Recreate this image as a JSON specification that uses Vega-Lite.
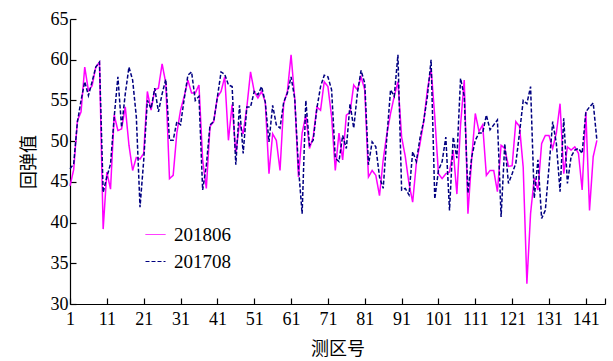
{
  "$schema": "https://vega.github.io/schema/vega-lite/v6.json",
  "autosize": "none",
  "padding": {"left": 70, "top": 19, "right": 8, "bottom": 57},
  "width": 535,
  "height": 285,
  "background": "white",
  "config": {
    "view": {"stroke": null},
    "axis": {"grid": false, "domainColor": "black", "tickColor": "black", "labelColor": "black", "titleColor": "black", "labelFont": "Liberation Serif", "labelFontSize": 18, "titleFont": "Noto Sans CJK SC", "titleFontSize": 18, "titleFontWeight": "normal", "domainWidth": 1.2, "tickWidth": 1.2}
  },
  "data": {"values": [
    {"i":1,"s":"201806","v":44.5},{"i":2,"s":"201806","v":46.5},{"i":3,"s":"201806","v":52.5},{"i":4,"s":"201806","v":53.6},{"i":5,"s":"201806","v":59.1},{"i":6,"s":"201806","v":56.2},{"i":7,"s":"201806","v":56.8},{"i":8,"s":"201806","v":59.1},{"i":9,"s":"201806","v":59.7},{"i":10,"s":"201806","v":39.2},
    {"i":11,"s":"201806","v":46.2},{"i":12,"s":"201806","v":44.1},{"i":13,"s":"201806","v":53.2},{"i":14,"s":"201806","v":51.3},{"i":15,"s":"201806","v":51.5},{"i":16,"s":"201806","v":54.2},{"i":17,"s":"201806","v":49.5},{"i":18,"s":"201806","v":46.4},{"i":19,"s":"201806","v":48},{"i":20,"s":"201806","v":47.8},
    {"i":21,"s":"201806","v":48.5},{"i":22,"s":"201806","v":56.1},{"i":23,"s":"201806","v":53.8},{"i":24,"s":"201806","v":56.3},{"i":25,"s":"201806","v":56.5},{"i":26,"s":"201806","v":59.5},{"i":27,"s":"201806","v":57.1},{"i":28,"s":"201806","v":45.4},{"i":29,"s":"201806","v":45.8},{"i":30,"s":"201806","v":51},
    {"i":31,"s":"201806","v":53.8},{"i":32,"s":"201806","v":55.5},{"i":33,"s":"201806","v":57.5},{"i":34,"s":"201806","v":55.9},{"i":35,"s":"201806","v":55.9},{"i":36,"s":"201806","v":56.9},{"i":37,"s":"201806","v":47.7},{"i":38,"s":"201806","v":44.2},{"i":39,"s":"201806","v":51.8},{"i":40,"s":"201806","v":52.4},
    {"i":41,"s":"201806","v":55.4},{"i":42,"s":"201806","v":56.1},{"i":43,"s":"201806","v":57.9},{"i":44,"s":"201806","v":50.1},{"i":45,"s":"201806","v":54.5},{"i":46,"s":"201806","v":48.5},{"i":47,"s":"201806","v":52.2},{"i":48,"s":"201806","v":50.9},{"i":49,"s":"201806","v":54.2},{"i":50,"s":"201806","v":58.5},
    {"i":51,"s":"201806","v":56.1},{"i":52,"s":"201806","v":55.3},{"i":53,"s":"201806","v":56.1},{"i":54,"s":"201806","v":54.8},{"i":55,"s":"201806","v":46},{"i":56,"s":"201806","v":50.9},{"i":57,"s":"201806","v":50.1},{"i":58,"s":"201806","v":46.4},{"i":59,"s":"201806","v":54.6},{"i":60,"s":"201806","v":56.1},
    {"i":61,"s":"201806","v":60.6},{"i":62,"s":"201806","v":55.2},{"i":63,"s":"201806","v":45.6},{"i":64,"s":"201806","v":51},{"i":65,"s":"201806","v":53.2},{"i":66,"s":"201806","v":49.1},{"i":67,"s":"201806","v":50.5},{"i":68,"s":"201806","v":54.2},{"i":69,"s":"201806","v":53.8},{"i":70,"s":"201806","v":57.3},
    {"i":71,"s":"201806","v":56.7},{"i":72,"s":"201806","v":53},{"i":73,"s":"201806","v":46.4},{"i":74,"s":"201806","v":51},{"i":75,"s":"201806","v":47.7},{"i":76,"s":"201806","v":53.2},{"i":77,"s":"201806","v":53.5},{"i":78,"s":"201806","v":56.9},{"i":79,"s":"201806","v":56.3},{"i":80,"s":"201806","v":57.9},
    {"i":81,"s":"201806","v":56.3},{"i":82,"s":"201806","v":45.6},{"i":83,"s":"201806","v":46.4},{"i":84,"s":"201806","v":45.8},{"i":85,"s":"201806","v":43.3},{"i":86,"s":"201806","v":47.7},{"i":87,"s":"201806","v":50.9},{"i":88,"s":"201806","v":53.4},{"i":89,"s":"201806","v":55.5},{"i":90,"s":"201806","v":57.3},
    {"i":91,"s":"201806","v":50.5},{"i":92,"s":"201806","v":48.1},{"i":93,"s":"201806","v":44.8},{"i":94,"s":"201806","v":42.5},{"i":95,"s":"201806","v":47.3},{"i":96,"s":"201806","v":49.7},{"i":97,"s":"201806","v":52.4},{"i":98,"s":"201806","v":56.3},{"i":99,"s":"201806","v":58.9},{"i":100,"s":"201806","v":53},
    {"i":101,"s":"201806","v":46},{"i":102,"s":"201806","v":45.4},{"i":103,"s":"201806","v":46},{"i":104,"s":"201806","v":46.2},{"i":105,"s":"201806","v":48.9},{"i":106,"s":"201806","v":43.5},{"i":107,"s":"201806","v":52},{"i":108,"s":"201806","v":57.5},{"i":109,"s":"201806","v":41.1},{"i":110,"s":"201806","v":47.7},
    {"i":111,"s":"201806","v":53.4},{"i":112,"s":"201806","v":51.2},{"i":113,"s":"201806","v":52},{"i":114,"s":"201806","v":45.8},{"i":115,"s":"201806","v":46.4},{"i":116,"s":"201806","v":46.4},{"i":117,"s":"201806","v":43.8},{"i":118,"s":"201806","v":49.5},{"i":119,"s":"201806","v":49.1},{"i":120,"s":"201806","v":46.9},
    {"i":121,"s":"201806","v":47},{"i":122,"s":"201806","v":52.4},{"i":123,"s":"201806","v":51.8},{"i":124,"s":"201806","v":46.8},{"i":125,"s":"201806","v":32.5},{"i":126,"s":"201806","v":41.1},{"i":127,"s":"201806","v":45.5},{"i":128,"s":"201806","v":44},{"i":129,"s":"201806","v":49.7},{"i":130,"s":"201806","v":50.7},
    {"i":131,"s":"201806","v":50.7},{"i":132,"s":"201806","v":49.1},{"i":133,"s":"201806","v":51},{"i":134,"s":"201806","v":54.6},{"i":135,"s":"201806","v":46},{"i":136,"s":"201806","v":49.3},{"i":137,"s":"201806","v":48.9},{"i":138,"s":"201806","v":49.3},{"i":139,"s":"201806","v":48.5},{"i":140,"s":"201806","v":44},
    {"i":141,"s":"201806","v":53.6},{"i":142,"s":"201806","v":41.5},{"i":143,"s":"201806","v":48.1},{"i":144,"s":"201806","v":50.1},
    {"i":1,"s":"201708","v":46.6},{"i":2,"s":"201708","v":47.2},{"i":3,"s":"201708","v":52.3},{"i":4,"s":"201708","v":55},{"i":5,"s":"201708","v":57.3},{"i":6,"s":"201708","v":55.6},{"i":7,"s":"201708","v":57.3},{"i":8,"s":"201708","v":59.1},{"i":9,"s":"201708","v":59.7},{"i":10,"s":"201708","v":43.7},
    {"i":11,"s":"201708","v":45.6},{"i":12,"s":"201708","v":47.2},{"i":13,"s":"201708","v":53},{"i":14,"s":"201708","v":57.9},{"i":15,"s":"201708","v":51.7},{"i":16,"s":"201708","v":55.8},{"i":17,"s":"201708","v":59.1},{"i":18,"s":"201708","v":57.5},{"i":19,"s":"201708","v":53},{"i":20,"s":"201708","v":41.9},
    {"i":21,"s":"201708","v":47.6},{"i":22,"s":"201708","v":55},{"i":23,"s":"201708","v":54},{"i":24,"s":"201708","v":56.5},{"i":25,"s":"201708","v":53.6},{"i":26,"s":"201708","v":55.8},{"i":27,"s":"201708","v":57.6},{"i":28,"s":"201708","v":50.1},{"i":29,"s":"201708","v":50.1},{"i":30,"s":"201708","v":52.4},
    {"i":31,"s":"201708","v":52},{"i":32,"s":"201708","v":55.2},{"i":33,"s":"201708","v":58.1},{"i":34,"s":"201708","v":58.5},{"i":35,"s":"201708","v":55},{"i":36,"s":"201708","v":55.5},{"i":37,"s":"201708","v":44},{"i":38,"s":"201708","v":47},{"i":39,"s":"201708","v":52},{"i":40,"s":"201708","v":52.4},
    {"i":41,"s":"201708","v":55.4},{"i":42,"s":"201708","v":58.5},{"i":43,"s":"201708","v":58.2},{"i":44,"s":"201708","v":56.9},{"i":45,"s":"201708","v":56.7},{"i":46,"s":"201708","v":47.1},{"i":47,"s":"201708","v":54.4},{"i":48,"s":"201708","v":48.5},{"i":49,"s":"201708","v":54.2},{"i":50,"s":"201708","v":54.2},
    {"i":51,"s":"201708","v":56.1},{"i":52,"s":"201708","v":55.7},{"i":53,"s":"201708","v":56.7},{"i":54,"s":"201708","v":54.8},{"i":55,"s":"201708","v":49.9},{"i":56,"s":"201708","v":54.4},{"i":57,"s":"201708","v":52},{"i":58,"s":"201708","v":51.6},{"i":59,"s":"201708","v":54.8},{"i":60,"s":"201708","v":55.9},
    {"i":61,"s":"201708","v":57.9},{"i":62,"s":"201708","v":55.2},{"i":63,"s":"201708","v":46.8},{"i":64,"s":"201708","v":41.1},{"i":65,"s":"201708","v":55},{"i":66,"s":"201708","v":49.5},{"i":67,"s":"201708","v":50.1},{"i":68,"s":"201708","v":54},{"i":69,"s":"201708","v":56.7},{"i":70,"s":"201708","v":58.1},
    {"i":71,"s":"201708","v":57.9},{"i":72,"s":"201708","v":56.3},{"i":73,"s":"201708","v":47.9},{"i":74,"s":"201708","v":47.5},{"i":75,"s":"201708","v":50.7},{"i":76,"s":"201708","v":49.1},{"i":77,"s":"201708","v":54.6},{"i":78,"s":"201708","v":51.6},{"i":79,"s":"201708","v":55.9},{"i":80,"s":"201708","v":58.7},
    {"i":81,"s":"201708","v":57.1},{"i":82,"s":"201708","v":47.1},{"i":83,"s":"201708","v":49.9},{"i":84,"s":"201708","v":49.3},{"i":85,"s":"201708","v":45.6},{"i":86,"s":"201708","v":44.2},{"i":87,"s":"201708","v":50.5},{"i":88,"s":"201708","v":56.3},{"i":89,"s":"201708","v":55.5},{"i":90,"s":"201708","v":60.6},
    {"i":91,"s":"201708","v":44},{"i":92,"s":"201708","v":44.2},{"i":93,"s":"201708","v":43.4},{"i":94,"s":"201708","v":48.7},{"i":95,"s":"201708","v":47.5},{"i":96,"s":"201708","v":50.4},{"i":97,"s":"201708","v":52.5},{"i":98,"s":"201708","v":55.5},{"i":99,"s":"201708","v":60},{"i":100,"s":"201708","v":42.9},
    {"i":101,"s":"201708","v":46.4},{"i":102,"s":"201708","v":47.5},{"i":103,"s":"201708","v":50.5},{"i":104,"s":"201708","v":41.5},{"i":105,"s":"201708","v":50.5},{"i":106,"s":"201708","v":47.9},{"i":107,"s":"201708","v":57.7},{"i":108,"s":"201708","v":55.5},{"i":109,"s":"201708","v":43.6},{"i":110,"s":"201708","v":48},
    {"i":111,"s":"201708","v":50.1},{"i":112,"s":"201708","v":51},{"i":113,"s":"201708","v":51},{"i":114,"s":"201708","v":53.2},{"i":115,"s":"201708","v":51.4},{"i":116,"s":"201708","v":52},{"i":117,"s":"201708","v":52.6},{"i":118,"s":"201708","v":40.7},{"i":119,"s":"201708","v":49.7},{"i":120,"s":"201708","v":44.8},
    {"i":121,"s":"201708","v":46},{"i":122,"s":"201708","v":47.3},{"i":123,"s":"201708","v":51},{"i":124,"s":"201708","v":55},{"i":125,"s":"201708","v":54.6},{"i":126,"s":"201708","v":56.7},{"i":127,"s":"201708","v":43},{"i":128,"s":"201708","v":47.7},{"i":129,"s":"201708","v":40.5},{"i":130,"s":"201708","v":41.5},
    {"i":131,"s":"201708","v":46.8},{"i":132,"s":"201708","v":52.4},{"i":133,"s":"201708","v":49.7},{"i":134,"s":"201708","v":43.8},{"i":135,"s":"201708","v":52.8},{"i":136,"s":"201708","v":44.8},{"i":137,"s":"201708","v":48.1},{"i":138,"s":"201708","v":48.9},{"i":139,"s":"201708","v":49.1},{"i":140,"s":"201708","v":48.5},
    {"i":141,"s":"201708","v":53.6},{"i":142,"s":"201708","v":54.2},{"i":143,"s":"201708","v":54.7},{"i":144,"s":"201708","v":50.1}
  ]},
  "mark": {"type": "line", "strokeWidth": 1.5},
  "encoding": {
    "x": {"field": "i", "type": "quantitative", "title": "测区号",
      "scale": {"domain": [1, 146.2], "nice": false, "zero": false},
      "axis": {"values": [1, 11, 21, 31, 41, 51, 61, 71, 81, 91, 101, 111, 121, 131, 141, 146.2], "labelExpr": "datum.value > 145 ? '' : datum.label", "tickSize": -6, "labelPadding": 12, "titlePadding": 12, "labelFlush": false}},
    "y": {"field": "v", "type": "quantitative", "title": "回弹值",
      "scale": {"domain": [30, 65], "nice": false, "zero": false},
      "axis": {"values": [30, 35, 40, 45, 50, 55, 60, 65], "tickSize": -6, "labelPadding": 8, "titlePadding": 12}},
    "color": {"field": "s", "type": "nominal", "title": null,
      "scale": {"domain": ["201806", "201708"], "range": ["#FF00FF", "#000080"]},
      "legend": {"orient": "none", "legendX": 75, "legendY": 205, "symbolType": "stroke", "symbolSize": 400, "symbolStrokeWidth": 1, "labelFont": "Liberation Serif", "labelFontSize": 19, "labelColor": "black", "labelOffset": 8, "rowPadding": 6, "padding": 0}},
    "strokeDash": {"field": "s", "type": "nominal", "title": null,
      "scale": {"domain": ["201806", "201708"], "range": [[1, 0], [4, 2]]}}
  }
}
